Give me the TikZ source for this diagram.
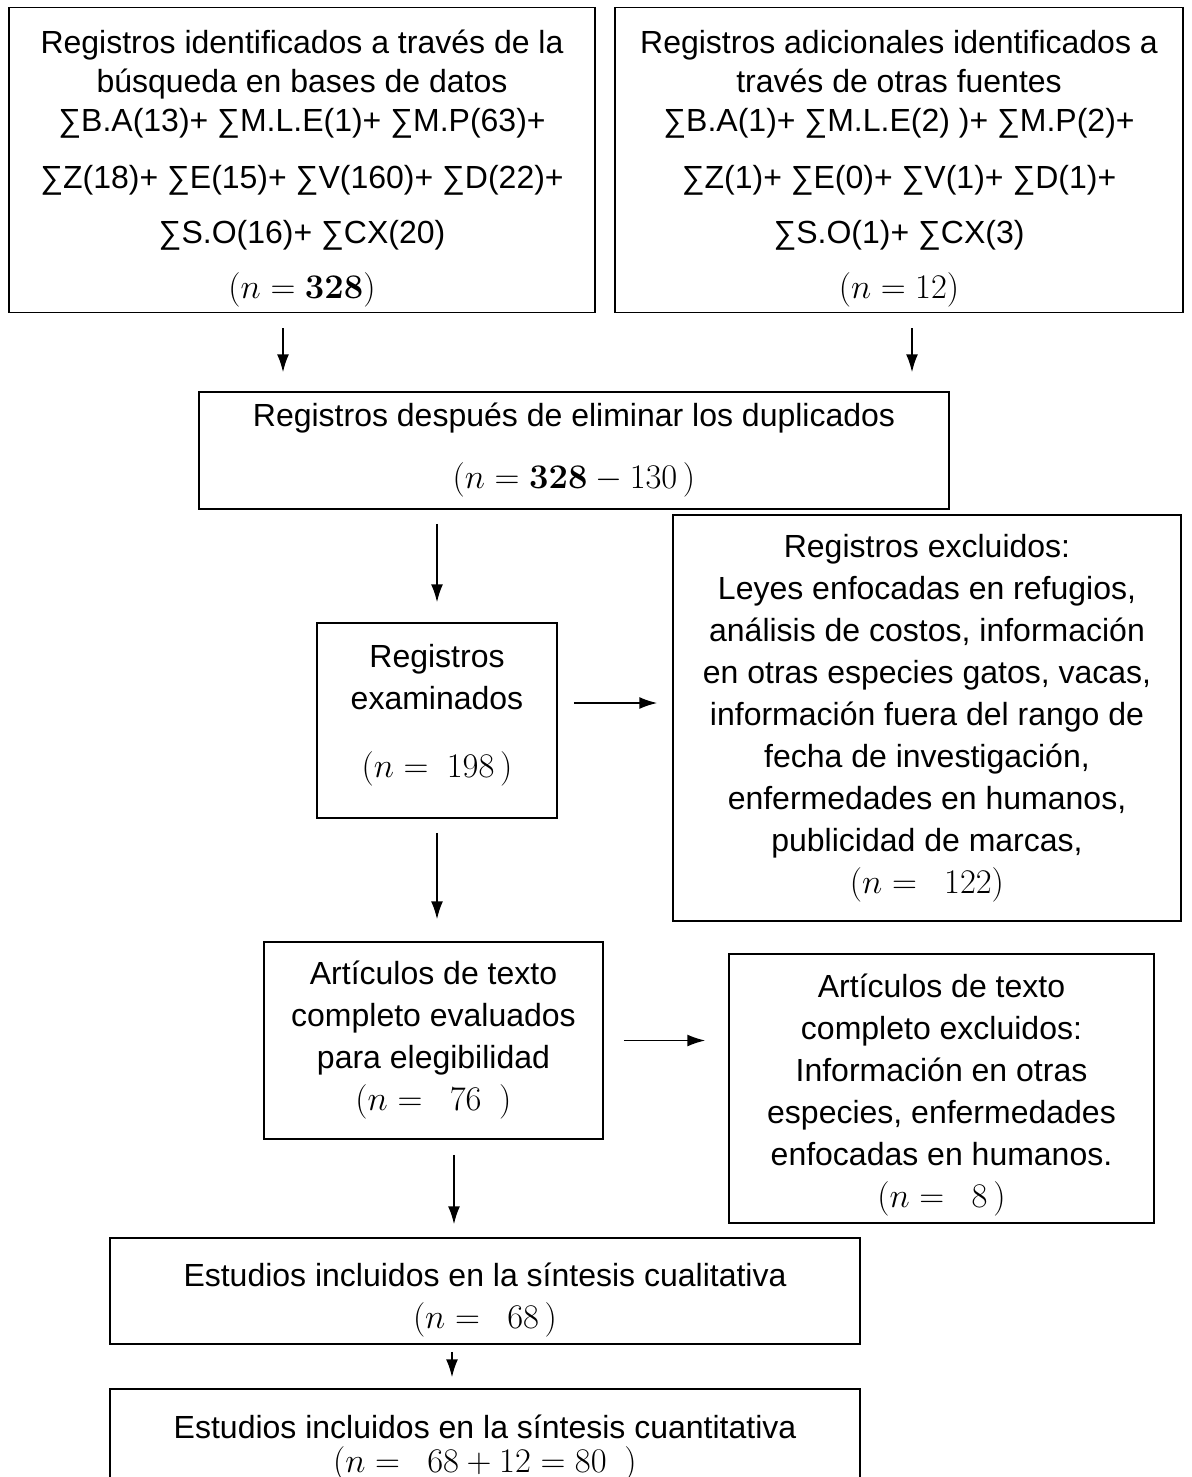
\documentclass[tikz,border=0pt]{standalone}
\usepackage[no-math]{fontspec}
\setmainfont{Liberation Sans}
\usetikzlibrary{arrows.meta}

\begin{document}
\begin{tikzpicture}[x=0.5pt, y=-0.5pt,
	box/.style={draw, line width=0.75pt, align=center, inner sep=0pt, font=\fontsize{16}{21}\selectfont},
	topbox/.style={box, font=\fontsize{16}{19.5}\selectfont},
	arr/.style={line width=0.8pt, -{Latex[length=9pt, width=6pt]}}]
		
		%Frame
		\useasboundingbox (0,0) rectangle (1192,1477);
		\clip (0,0) rectangle (1192,1477);
		
		%Identification
		\node[topbox, minimum width=293pt, minimum height=152.5pt] (bases) at (302,160) {\rule{0pt}{20pt}Registros identificados a través de la\\ búsqueda en bases de datos\\ ∑B.A(13)+ ∑M.L.E(1)+ ∑M.P(63)+\\[9pt] ∑Z(18)+ ∑E(15)+ ∑V(160)+ ∑D(22)+\\[8pt] ∑S.O(16)+ ∑CX(20)\\[8pt] $(n=\mathbf{328})$};
		\node[topbox, minimum width=284pt, minimum height=152.5pt] (otras) at (899,160) {\rule{0pt}{20pt}Registros adicionales identificados a\\ través de otras fuentes\\ ∑B.A(1)+ ∑M.L.E(2) )+ ∑M.P(2)+\\[9pt] ∑Z(1)+ ∑E(0)+ ∑V(1)+ ∑D(1)+\\[8pt] ∑S.O(1)+ ∑CX(3)\\[8pt] $(n=12)$};
		
		%Screening
		\node[box, minimum width=375pt, minimum height=58.5pt] (dupl) at (574,450.5) {Registros después de eliminar los duplicados\\[10pt] $(n=\mathbf{328}-130\,)$};
		\node[box, minimum width=120pt, minimum height=97.5pt] (exam) at (437,720.5) {Registros\\ examinados\\[13pt] $(n=\ 198\,)$\rule[-10pt]{0pt}{10pt}};
		\node[box, minimum width=254pt, minimum height=203pt] (excl) at (927,718) {Registros excluidos:\\ Leyes enfocadas en refugios,\\ análisis de costos, información\\ en otras especies gatos, vacas,\\ información fuera del rango de\\ fecha de investigación,\\ enfermedades en humanos,\\ publicidad de marcas,\\ $(n=\ \ 122)$};
		
		%Eligibility
		\node[box, minimum width=169.5pt, minimum height=98.5pt] (eleg) at (433.5,1040.5) {Artículos de texto\\ completo evaluados\\ para elegibilidad\\ $(n=\ \ 76\ \ )$};
		\node[box, minimum width=212.5pt, minimum height=134.5pt] (exart) at (941.5,1088.5) {\rule{0pt}{18.5pt}Artículos de texto\\ completo excluidos:\\ Información en otras\\ especies, enfermedades\\ enfocadas en humanos.\\ $(n=\ \ 8\,)$};
		
		%Included
		\node[box, minimum width=375pt, minimum height=53pt] (cual) at (485,1291) {\rule{0pt}{20.5pt}Estudios incluidos en la síntesis cualitativa\\ $(n=\ \ 68\,)$};
		\node[box, minimum width=375pt, minimum height=62pt] (cuant) at (485,1451) {Estudios incluidos en la síntesis cuantitativa\\[-4pt] $(n=\ \ 68+12=80\ \ )$\rule[-7.6pt]{0pt}{7.6pt}};
		
		%Arrows
		\draw[arr, shorten <=7.5pt, shorten >=9.5pt] ([xshift=-9.5pt]bases.south) -- ([xshift=-9.5pt]bases.south |- dupl.north);
		\draw[arr, shorten <=7.5pt, shorten >=9.5pt] ([xshift=6.5pt]otras.south) -- ([xshift=6.5pt]otras.south |- dupl.north);
		\draw[arr, shorten <=7pt, shorten >=10pt] (exam.north |- dupl.south) -- (exam.north);
		\draw[arr, shorten <=8pt, shorten >=7.5pt] ([yshift=8.75pt]exam.east) -- ([yshift=8.75pt]exam.east -| excl.west);
		\draw[arr, shorten <=7pt, shorten >=11pt] (exam.south) -- (exam.south |- eleg.north);
		\draw[arr, shorten <=10pt, shorten >=11.5pt] (eleg.east) -- (eleg.east -| exart.west);
		\draw[arr, shorten <=7.5pt, shorten >=6.5pt] ([xshift=10.25pt]eleg.south) -- ([xshift=10.25pt]eleg.south |- cual.north);
		\draw[arr, shorten <=3.5pt, shorten >=5.5pt] ([xshift=-16.5pt]cual.south) -- ([xshift=-16.5pt]cual.south |- cuant.north);
		
	\end{tikzpicture}
\end{document}
